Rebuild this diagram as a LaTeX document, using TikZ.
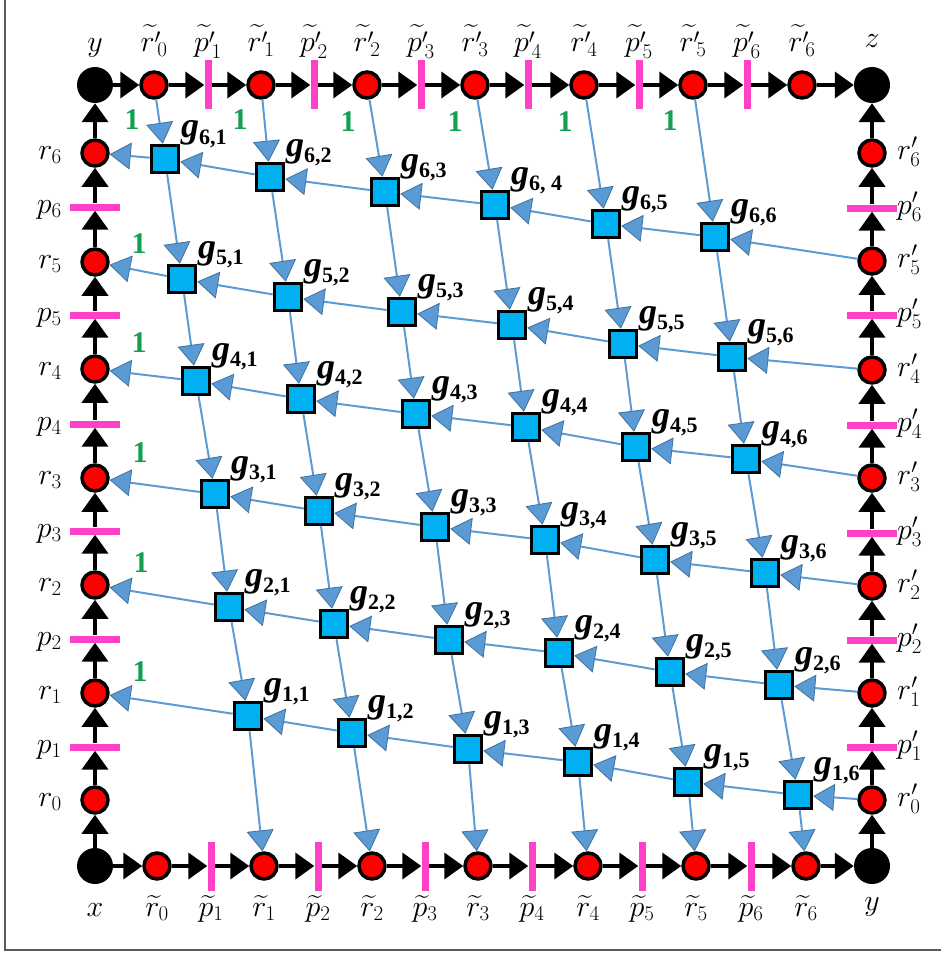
\RequirePackage{fix-cm}
\documentclass[tikz,border=0pt]{standalone}
\usepackage{exscale}
\usepackage[no-math]{fontspec}
\newfontfamily\tnr{Liberation Serif}
\usetikzlibrary{arrows.meta}
\definecolor{pinkc}{RGB}{255,64,200}
\definecolor{cyanc}{RGB}{0,176,240}
\definecolor{bluel}{RGB}{91,155,213}
\definecolor{bluee}{RGB}{65,113,156}
\definecolor{greenc}{RGB}{20,160,80}
\definecolor{framec}{RGB}{90,90,90}
\newcommand\glab[2]{{\tnr\bfseries\itshape\fontsize{36}{36}\selectfont g}\raisebox{-6pt}{\tnr\bfseries\fontsize{22}{22}\selectfont #1,\ifnum#1#2=64\relax\ \fi#2}}
\begin{document}
\begin{tikzpicture}[x=1pt,y=-1pt,
  blk/.style={line width=4pt,-{Triangle[width=26pt,length=19pt]}},
  blu/.style={draw=bluel,line width=2pt,-{Triangle[width=27pt,length=21pt,fill=bluel,color=bluee,line width=0.8pt]}},
  rnode/.style={circle,fill=red,draw=black,line width=3.5pt,minimum size=26pt,inner sep=0pt},
  cnode/.style={circle,fill=black,minimum size=36pt,inner sep=0pt},
  hbar/.style={rectangle,fill=pinkc,minimum width=7pt,minimum height=49pt,inner sep=0pt},
  vbar/.style={rectangle,fill=pinkc,minimum width=50pt,minimum height=7pt,inner sep=0pt},
  gsq/.style={rectangle,fill=cyanc,draw=black,line width=3.5pt,minimum size=27pt,inner sep=0pt},
  lab/.style={inner sep=0pt,font=\fontsize{30}{36}\selectfont},
  one/.style={text=greenc,inner sep=0pt,font=\tnr\bfseries\fontsize{30}{30}\selectfont},
  glabel/.style={inner sep=0pt,anchor=base west}]
\useasboundingbox (0,0) rectangle (941,955);
\draw[framec,line width=1.2pt] (5,0) -- (5,950) -- (941,950);
% corners
\node[cnode] (cTL) at (95,85) {};
\node[cnode] (cTR) at (872,85) {};
\node[cnode] (cBL) at (95,866) {};
\node[cnode] (cBR) at (872,866) {};
\node[lab,anchor=base] (lTL) at (95,52) {$y$};
\node[lab,anchor=base] (lTR) at (872,48) {$z$};
\node[lab,anchor=base] (lBL) at (95,916) {$x$};
\node[lab,anchor=base] (lBR) at (872,910) {$y$};
% left column
\foreach \k/\v in {0/800,1/693,2/585,3/478,4/369,5/262,6/153}{
  \node[rnode] (lr\k) at (95,\v) {};
  \node[lab,anchor=mid east] (llr\k) at (62,\v+4) {$r_\k$};}
\foreach \k/\v in {1/747,2/639,3/531,4/424,5/315,6/207}{
  \node[vbar] (lp\k) at (95,\v) {};
  \node[lab,anchor=mid east] (llp\k) at (62,\v+4) {$p_\k$};}
% right column
\foreach \k/\v in {0/800,1/693,2/586,3/478,4/370,5/261,6/153}{
  \node[rnode] (rr\k) at (872,\v) {};
  \node[lab,anchor=mid west] (lrr\k) at (897,\v+4) {$r'_\k$};}
\foreach \k/\v in {1/747,2/640,3/533,4/425,5/315,6/208}{
  \node[vbar] (rp\k) at (872,\v) {};
  \node[lab,anchor=mid west] (lrp\k) at (897,\v+4) {$p'_\k$};}
% top row
\foreach \k/\v in {0/154,1/261,2/367,3/475,4/584,5/693,6/802}{
  \node[rnode] (tr\k) at (\v,85) {};
  \node[lab,anchor=base] (ltr\k) at (\v,52) {$\widetilde{r'}_{\!\k}$};}
\foreach \k/\v in {1/208,2/314,3/421,4/528,5/639,6/747}{
  \node[hbar] (tp\k) at (\v,85) {};
  \node[lab,anchor=base] (ltp\k) at (\v,52) {$\widetilde{p'}_{\!\k}$};}
% bottom row
\foreach \k/\v in {0/157,1/264,2/372,3/478,4/588,5/696,6/806}{
  \node[rnode] (br\k) at (\v,866) {};
  \node[lab,anchor=base] (lbr\k) at (\v,916) {$\widetilde{r}_\k$};}
\foreach \k/\v in {1/211,2/318,3/425,4/532,5/642,6/751}{
  \node[hbar] (bp\k) at (\v,866) {};
  \node[lab,anchor=base] (lbp\k) at (\v,916) {$\widetilde{p}_\k$};}
% black chains
\draw[blk] (cBL) -- (lr0);
\draw[blk] (cBR) -- (rr0);
\draw[blk] (cTL) -- (tr0);
\draw[blk] (cBL) -- (br0);
\foreach \k in {1,...,6}{
  \pgfmathtruncatemacro\km{\k-1}
  \draw[blk] (lr\km) -- (lp\k);
  \draw[blk] (lp\k) -- (lr\k);
  \draw[blk] (rr\km) -- (rp\k);
  \draw[blk] (rp\k) -- (rr\k);
  \draw[blk] (tr\km) -- (tp\k);
  \draw[blk] (tp\k) -- (tr\k);
  \draw[blk] (br\km) -- (bp\k);
  \draw[blk] (bp\k) -- (br\k);}
\draw[blk] (lr6) -- (cTL);
\draw[blk] (rr6) -- (cTR);
\draw[blk] (tr6) -- (cTR);
\draw[blk] (br6) -- (cBR);
% squares
\foreach \i/\j/\x/\y in {
  6/1/165/159,6/2/270/177,6/3/385/192,6/4/495/205,6/5/606/224,6/6/715/237,
  5/1/182/279,5/2/288/297,5/3/402/312,5/4/512/325,5/5/623/344,5/6/732/357,
  4/1/196/381,4/2/301/399,4/3/416/414,4/4/526/427,4/5/636/447,4/6/746/459,
  3/1/215/494,3/2/319/511,3/3/435/527,3/4/545/540,3/5/655/560,3/6/765/573,
  2/1/229/607,2/2/334/624,2/3/449/640,2/4/559/653,2/5/670/672,2/6/779/685,
  1/1/248/716,1/2/352/733,1/3/468/749,1/4/578/762,1/5/688/782,1/6/798/795}{
  \node[gsq] (g\i\j) at (\x,\y) {};
  \node[glabel] (lg\i\j) at (\x+16,\y-21) {\glab{\i}{\j}};}
% rows
\foreach \i in {1,...,6}{
  \pgfmathtruncatemacro\im{\i-1}
  \draw[blu] (rr\im) -- (g\i6);
  \foreach \j in {6,...,2}{
    \pgfmathtruncatemacro\jm{\j-1}
    \draw[blu] (g\i\j) -- (g\i\jm);}
  \draw[blu] (g\i1) -- (lr\i);}
% columns
\foreach \j in {1,...,6}{
  \pgfmathtruncatemacro\jm{\j-1}
  \draw[blu] (tr\jm) -- (g6\j);
  \foreach \i in {6,...,2}{
    \pgfmathtruncatemacro\imm{\i-1}
    \draw[blu] (g\i\j) -- (g\imm\j);}
  \draw[blu] (g1\j) -- (br\j);}
% green ones
\foreach \n/\x/\y in {a/132/120,b/240/120,c/348/122,d/455/122,e/565/122,f/670/121,
  g/139/244,h/139/343,i/140/453,j/141/563,k/140/672}{
  \node[one] (one\n) at (\x,\y) {1};}
\end{tikzpicture}
\end{document}
